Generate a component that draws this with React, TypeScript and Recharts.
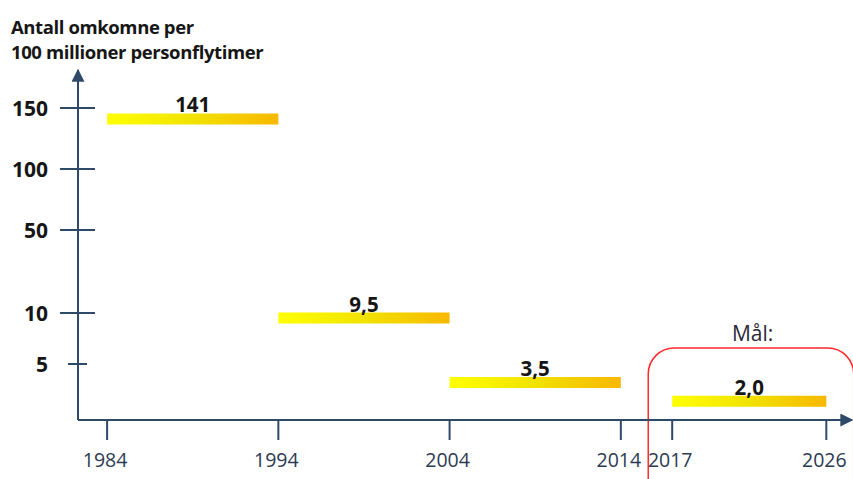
import { ComposedChart, XAxis, YAxis, ReferenceArea, ReferenceDot } from 'recharts'

// periods and fatality rate per 100 million person flight hours
const periodStart = [1984, 1994, 2004, 2017]
const periodEnd = [1994, 2004, 2014, 2026]
const rates = [141, 9.5, 3.5, 2.0]
const rateLabels = ['141', '9,5', '3,5', '2,0']

const xTicks = [1984, 1994, 2004, 2014, 2017, 2026]
const yTickValues = [5, 10, 50, 100, 150]

// broken (piecewise) value axis as drawn in the original slide
const scaleValues = [0, 5, 10, 50, 100, 150]
const scalePos = [-6, 56, 107, 190, 251, 312]

const goalLabel = 'Mål:'
const goalYear = 2021.7

function toPos(v: number): number {
  for (let i = 1; i < scaleValues.length; i++) {
    if (v <= scaleValues[i]) {
      const f = (v - scaleValues[i - 1]) / (scaleValues[i] - scaleValues[i - 1])
      return scalePos[i - 1] + f * (scalePos[i] - scalePos[i - 1])
    }
  }
  return scalePos[scalePos.length - 1]
}

function fromPos(p: number): number {
  const i = scalePos.findIndex((s) => Math.abs(s - p) < 0.01)
  return i >= 0 ? scaleValues[i] : p
}

const AXIS = '#2f4a68'
const BAR_HALF = 5.5

const YTick = (props: any) => {
  const { x, y, payload } = props
  const v = fromPos(payload.value)
  const half = v === 5 ? 10 : 18
  return (
    <g>
      <line x1={x - half} x2={x + half - 1} y1={y} y2={y} stroke={AXIS} strokeWidth={2} />
      <text x={x - 30} y={y} textAnchor="end" dominantBaseline="central" fontFamily="Open Sans" fontWeight="bold" fontSize={21} fill="#161616">
        {v}
      </text>
    </g>
  )
}

const XTick = (props: any) => {
  const { x, y, payload } = props
  return (
    <g>
      <line x1={x} x2={x} y1={y} y2={y + 20} stroke={AXIS} strokeWidth={2} />
      <text x={x - 2} y={y + 39} textAnchor="middle" dominantBaseline="central" fontFamily="Open Sans" fontSize={19.5} fill="#2b3a52">
        {payload.value}
      </text>
    </g>
  )
}

const data = rates.map((r, i) => ({ start: periodStart[i], end: periodEnd[i], rate: r }))

export default function App() {
  return (
    <div style={{ position: 'absolute', left: 0, top: 0, width: 853, height: 479, background: '#fff' }}>
      <div style={{ position: 'absolute', left: 11, top: 14, fontFamily: 'Open Sans', fontWeight: 'bold', fontSize: 18.5, lineHeight: '25px', color: '#161616', letterSpacing: -0.4 }}>
        <div>Antall omkomne per</div>
        <div>100 millioner personflytimer</div>
      </div>
      <ComposedChart width={853} height={479} data={data} margin={{ top: 70, right: 1, left: 0, bottom: 0 }}>
        <defs>
          <linearGradient id="barGrad" x1="0" y1="0" x2="1" y2="0">
            <stop offset="0%" stopColor="#ffff00" />
            <stop offset="50%" stopColor="#f1e200" />
            <stop offset="100%" stopColor="#f8b800" />
          </linearGradient>
          <marker id="arrow" viewBox="0 0 10 10" refX="9" refY="5" markerUnits="userSpaceOnUse" markerWidth={13} markerHeight={13} orient="auto-start-reverse">
            <path d="M0,0 L10,5 L0,10 z" fill={AXIS} />
          </marker>
        </defs>
        <XAxis
          type="number"
          dataKey="start"
          domain={[1982.3, 2027.5]}
          allowDataOverflow
          ticks={xTicks}
          interval={0}
          height={59}
          tickSize={0}
          tickMargin={0}
          tick={<XTick />}
          tickLine={false}
          axisLine={{ stroke: AXIS, strokeWidth: 2, markerEnd: 'url(#arrow)' }}
        />
        <YAxis
          type="number"
          domain={[0, 350]}
          allowDataOverflow
          ticks={yTickValues.map(toPos)}
          interval={0}
          width={78}
          tickSize={0}
          tickMargin={0}
          tick={<YTick />}
          tickLine={false}
          axisLine={{ stroke: AXIS, strokeWidth: 2, markerStart: 'url(#arrow)' }}
        />
        {data.map((d, i) => (
          <ReferenceArea
            key={i}
            x1={d.start}
            x2={d.end}
            y1={toPos(d.rate) - BAR_HALF}
            y2={toPos(d.rate) + BAR_HALF}
            fill="url(#barGrad)"
            fillOpacity={1}
            stroke="none"
            ifOverflow="visible"
            label={{ value: rateLabels[i], position: 'top', offset: 1, fontFamily: 'Open Sans', fontWeight: 'bold', fontSize: 20.5, fill: '#161616' }}
          />
        ))}
        <ReferenceArea
          x1={2015.6}
          x2={2027.6}
          y1={-120}
          y2={72}
          ifOverflow="visible"
          shape={(p: any) => (
            <rect x={p.x} y={p.y} width={p.width} height={p.height} rx={26} ry={26} fill="none" stroke="#ff2a2a" strokeWidth={1.5} />
          )}
        />
        <ReferenceDot
          x={goalYear}
          y={86}
          r={0}
          ifOverflow="visible"
          label={{ value: goalLabel, position: 'center', fontFamily: 'Open Sans', fontSize: 21, fill: '#2a2a3a' }}
        />
      </ComposedChart>
    </div>
  )
}
